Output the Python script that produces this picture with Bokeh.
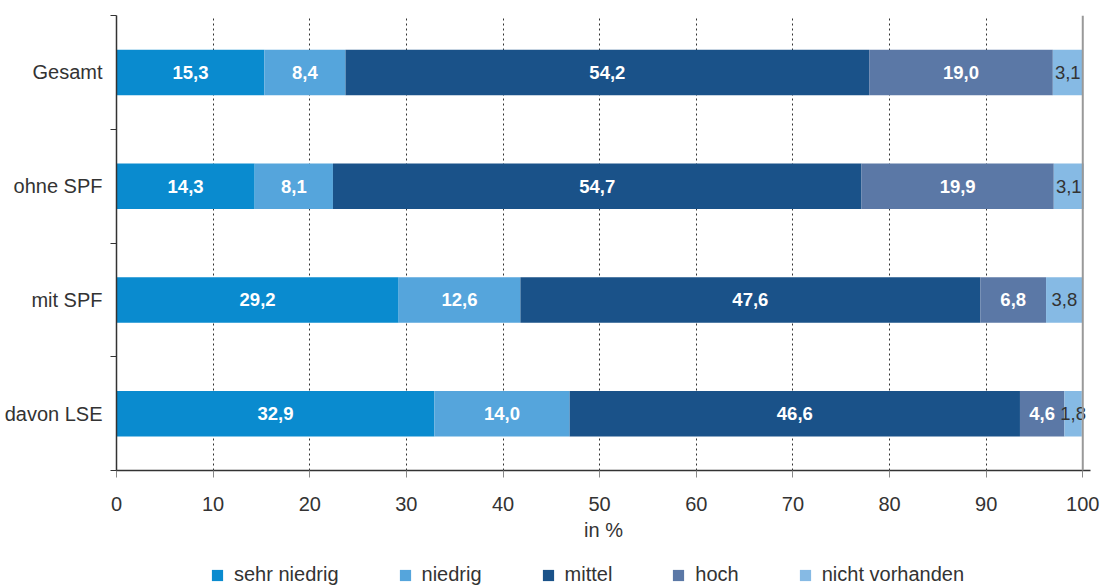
from bokeh.plotting import figure
from bokeh.layouts import column
from bokeh.models import ColumnDataSource, FixedTicker, Span, Legend, LegendItem, Range1d
from bokeh.core.properties import value
from bokeh.embed import file_html
from bokeh.resources import INLINE

categories = ["Gesamt", "ohne SPF", "mit SPF", "davon LSE"]
series = ["sehr niedrig", "niedrig", "mittel", "hoch", "nicht vorhanden"]
sehr_niedrig = [15.3, 14.3, 29.2, 32.9]
niedrig = [8.4, 8.1, 12.6, 14.0]
mittel = [54.2, 54.7, 47.6, 46.6]
hoch = [19.0, 19.9, 6.8, 4.6]
nicht_vorhanden = [3.1, 3.1, 3.8, 1.8]
x_ticks = [0, 10, 20, 30, 40, 50, 60, 70, 80, 90, 100]

colors = ["#0a8bcf", "#55a5dc", "#1a5289", "#5b78a6", "#86bae4"]
label_colors = ["white", "white", "white", "white", "#333333"]
label_styles = ["bold", "bold", "bold", "bold", "normal"]
FONT = "Liberation Sans"

n = len(categories)
ypos = [n - i - 0.5 for i in range(n)]
values = [sehr_niedrig, niedrig, mittel, hoch, nicht_vorhanden]

data = {"y": ypos}
for s, v in zip(series, values):
    data[s] = v
source = ColumnDataSource(data)

# x range slightly past 100 so the small end label is not clipped; 100 stays at the grey line
p = figure(width=1107, height=556, output_backend="svg", toolbar_location=None,
           x_range=Range1d(0, 100.8), y_range=Range1d(0, n),
           min_border_left=116, min_border_top=15, min_border_right=17, min_border_bottom=86)
p.outline_line_color = None

renderers = p.hbar_stack(series, y="y", height=0.4, color=colors, source=source, line_color=None)

# value labels
for k, s in enumerate(series):
    xs, ys, ts = [], [], []
    for i in range(n):
        start = sum(values[j][i] for j in range(k))
        xs.append(start + values[k][i] / 2)
        ys.append(ypos[i])
        ts.append(f"{values[k][i]:.1f}".replace(".", ","))
    src = ColumnDataSource(dict(x=xs, y=ys, t=ts))
    p.text(x="x", y="y", text="t", source=src, text_align="center", text_baseline="middle",
           text_color=label_colors[k], text_font=value(FONT), text_font_size="18.5px",
           text_font_style=label_styles[k])

# grid
p.ygrid.visible = False
p.xgrid.ticker = FixedTicker(ticks=x_ticks[1:-1])
p.xgrid.grid_line_color = "#333333"
p.xgrid.grid_line_dash = "2 3"
p.xgrid.grid_line_width = 1
p.add_layout(Span(location=100, dimension="height", line_color="#999999", line_width=2))

# x axis
p.xaxis.ticker = FixedTicker(ticks=x_ticks)
p.xaxis.axis_label = "in %"
p.xaxis.axis_label_text_font = FONT
p.xaxis.axis_label_text_font_size = "20px"
p.xaxis.axis_label_text_font_style = "normal"
p.xaxis.axis_label_text_color = "#333333"
p.xaxis.axis_label_standoff = 5
p.xaxis.major_label_text_font = FONT
p.xaxis.major_label_text_font_size = "20px"
p.xaxis.major_label_text_color = "#333333"
p.xaxis.major_label_standoff = 19
p.xaxis.axis_line_color = "#333333"
p.xaxis.axis_line_width = 1.5
p.xaxis.major_tick_line_color = "#888888"
p.xaxis.major_tick_out = 7
p.xaxis.major_tick_in = 0
p.xaxis.minor_tick_line_color = None

# y axis
p.yaxis.ticker = FixedTicker(ticks=ypos, minor_ticks=list(range(n + 1)))
p.yaxis.major_label_overrides = {y: c for y, c in zip(ypos, categories)}
p.yaxis.major_label_text_font = FONT
p.yaxis.major_label_text_font_size = "20px"
p.yaxis.major_label_text_color = "#333333"
p.yaxis.major_tick_line_color = None
p.yaxis.major_tick_out = 0
p.yaxis.major_tick_in = 0
p.yaxis.major_label_standoff = 8
p.yaxis.minor_tick_line_color = "#333333"
p.yaxis.minor_tick_out = 6
p.yaxis.minor_tick_in = 0
p.yaxis.axis_line_color = "#333333"
p.yaxis.axis_line_width = 1.5

# legend strip
p2 = figure(width=1107, height=30, output_backend="svg", toolbar_location=None,
            x_range=Range1d(0, 1), y_range=Range1d(0, 1),
            min_border_left=0, min_border_right=0, min_border_top=0, min_border_bottom=0)
p2.outline_line_color = None
p2.axis.visible = False
p2.grid.visible = False
# off-screen proxy row so that the legend swatches are drawn
proxy = ColumnDataSource({**{"y": [-5]}, **{s: [1] for s in series}})
dummy = p2.hbar_stack(series, y="y", height=0.4, color=colors, source=proxy, line_color=None)

legend = Legend(items=[LegendItem(label=s, renderers=[r]) for s, r in zip(series, dummy)],
                orientation="horizontal", location=(94, 0),
                glyph_width=14, glyph_height=14, label_standoff=10, spacing=59,
                padding=0, margin=0, border_line_color=None, background_fill_alpha=0,
                label_text_font=FONT, label_text_font_size="20px", label_text_color="#333333")
p2.add_layout(legend, "center")

open("out.html", "w").write(file_html(column(p, p2, spacing=0), INLINE))
